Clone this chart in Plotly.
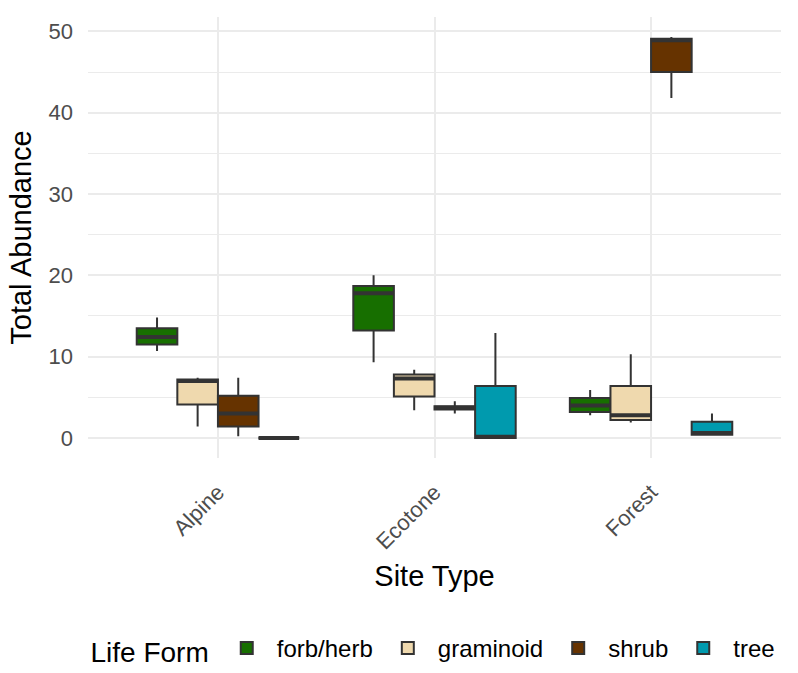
import plotly.graph_objects as go

sites = ["Alpine", "Ecotone", "Forest"]
life_forms = ["forb/herb", "graminoid", "shrub", "tree"]
colors = ["#176F00", "#EFD9AE", "#663300", "#009AAE"]

# per life form, per site: lower whisker, q1, median, q3, upper whisker
lower = {
    "forb/herb": [10.7, 9.3, 2.8],
    "graminoid": [1.4, 3.4, 1.9],
    "shrub": [0.2, 3.0, 41.8],
    "tree": [0.0, 0.0, 0.4],
}
q1 = {
    "forb/herb": [11.5, 13.2, 3.2],
    "graminoid": [4.1, 5.1, 2.2],
    "shrub": [1.4, 3.5, 45.0],
    "tree": [0.0, 0.0, 0.4],
}
median = {
    "forb/herb": [12.4, 17.8, 4.0],
    "graminoid": [7.0, 7.3, 2.8],
    "shrub": [3.0, 3.7, 48.9],
    "tree": [0.0, 0.15, 0.6],
}
q3 = {
    "forb/herb": [13.5, 18.7, 4.9],
    "graminoid": [7.2, 7.8, 6.4],
    "shrub": [5.2, 3.9, 49.1],
    "tree": [0.0, 6.4, 2.0],
}
upper = {
    "forb/herb": [14.8, 20.0, 5.9],
    "graminoid": [7.4, 8.4, 10.3],
    "shrub": [7.4, 4.5, 49.3],
    "tree": [0.0, 12.9, 3.0],
}

FONT = "Liberation Sans, Arial, sans-serif"
fig = go.Figure()
for lf, col in zip(life_forms, colors):
    fig.add_trace(go.Box(
        name=lf,
        x=sites,
        q1=q1[lf], median=median[lf], q3=q3[lf],
        lowerfence=lower[lf], upperfence=upper[lf],
        fillcolor=col,
        line=dict(color="#333333", width=2),
        whiskerwidth=0,
        boxpoints=False,
        offsetgroup=lf, alignmentgroup="all",
    ))
# thicker median bars (ggplot fatten) drawn on top in the same dodge slot
for lf, col in zip(life_forms, colors):
    fig.add_trace(go.Box(
        name=lf,
        x=sites,
        q1=median[lf], median=median[lf], q3=median[lf],
        lowerfence=median[lf], upperfence=median[lf],
        fillcolor=col,
        line=dict(color="#333333", width=4),
        whiskerwidth=0,
        boxpoints=False,
        offsetgroup=lf, alignmentgroup="all",
        showlegend=False, hoverinfo="skip",
    ))

ymax_data = 49.3
ymin_data = 0.0
pad = 0.05 * (ymax_data - ymin_data)

fig.update_layout(
    width=798, height=673,
    paper_bgcolor="white", plot_bgcolor="white",
    boxmode="group", boxgap=0.25, boxgroupgap=0,
    margin=dict(l=88, r=17, t=17, b=215),
    font=dict(family=FONT, color="black"),
    xaxis=dict(
        range=[-0.6, 2.6],
        showgrid=True, gridcolor="#EBEBEB", gridwidth=2,
        zeroline=False, showline=False, ticks="",
        tickangle=-45, ticklabelstandoff=16,
        tickfont=dict(size=22, color="#4D4D4D", family=FONT),
        title=dict(text="Site Type", font=dict(size=29, color="black", family=FONT), standoff=12),
    ),
    yaxis=dict(
        range=[ymin_data - pad, ymax_data + pad],
        dtick=10, tick0=0,
        showgrid=True, gridcolor="#EBEBEB", gridwidth=2,
        minor=dict(dtick=5, tick0=0, showgrid=True, gridcolor="#EBEBEB", gridwidth=1),
        zeroline=False, showline=False, ticks="",
        ticklabelstandoff=14,
        tickfont=dict(size=22, color="#4D4D4D", family=FONT),
        title=dict(text="Total Abundance", font=dict(size=29, color="black", family=FONT), standoff=8),
    ),
    legend=dict(
        orientation="h", x=0.5, xanchor="center",
        yref="container", y=0.0, yanchor="bottom",
        title=dict(text="Life Form", font=dict(size=28, color="black", family=FONT), side="left"),
        font=dict(size=24, color="black", family=FONT),
        itemwidth=50,
    ),
)

fig.write_html("out.html")
